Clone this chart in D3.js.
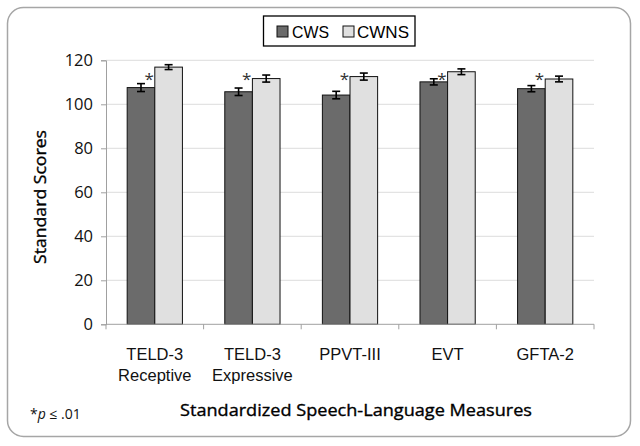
<!DOCTYPE html>
<html><head><meta charset="utf-8">
<script src="https://cdn.jsdelivr.net/npm/d3@7"></script>
<style>
body{margin:0;background:#fff;}
svg{display:block;}
</style></head>
<body><svg id="chart" width="640" height="446"></svg>
<script>
const categories = [["TELD-3","Receptive"],["TELD-3","Expressive"],["PPVT-III"],["EVT"],["GFTA-2"]];
const seriesNames = ["CWS","CWNS"];
const cwsValues  = [107.6, 105.7, 104.2, 110.2, 107.1];
const cwnsValues = [116.9, 111.7, 112.6, 114.8, 111.5];
const cwsErr  = [1.8, 1.7, 1.7, 1.4, 1.4];
const cwnsErr = [1.1, 1.6, 1.6, 1.3, 1.3];
const sigFlags = [true, true, true, true, true];
const yTicks = [0, 20, 40, 60, 80, 100, 120];
const colors = ["#6b6b6b", "#e0e0e0"];

const svg = d3.select("#chart");
const helv = "'Liberation Sans',Arial,sans-serif";
const wide = "'Open Sans','Liberation Sans',sans-serif";

// frame
svg.append("rect").attr("x",7.5).attr("y",7.5).attr("width",623).attr("height",429)
  .attr("rx",16).attr("fill","#fff").attr("stroke","#a6a6a6").attr("stroke-width",1.5);

const L = 106, R = 594, T = 60.3, B = 324.3;
const x = d3.scaleBand().domain(d3.range(categories.length)).range([L, R]).padding(0);
const y = d3.scaleLinear().domain([0, 120]).range([B, T]);
const bw = x.bandwidth() * 0.283;

// gridlines
svg.append("g").selectAll("line").data(yTicks.filter(d => d > 0)).join("line")
  .attr("x1", L).attr("x2", R).attr("y1", d => y(d)).attr("y2", d => y(d))
  .attr("stroke", "#dcdcdc").attr("stroke-width", 1);

// y axis
const yAxis = svg.append("g").attr("transform", `translate(${L},0)`)
  .call(d3.axisLeft(y).tickValues(yTicks).tickSize(5).tickPadding(8));
yAxis.select(".domain").attr("stroke", "#a0a0a0");
yAxis.selectAll(".tick line").attr("stroke", "#a0a0a0");
yAxis.selectAll("text").attr("font-family", wide).attr("font-size", 16.5).attr("fill", "#111");

// bars
const series = [cwsValues, cwnsValues];
const errs = [cwsErr, cwnsErr];
series.forEach((vals, s) => {
  const g = svg.append("g");
  g.selectAll("rect").data(vals).join("rect")
    .attr("x", (d, i) => x(i) + x.bandwidth()/2 + (s - 1) * bw)
    .attr("y", d => y(d)).attr("width", bw).attr("height", d => B - y(d))
    .attr("fill", colors[s]).attr("stroke", "#111").attr("stroke-width", 1);
  const eg = svg.append("g").attr("stroke", "#000").attr("stroke-width", 1.6);
  vals.forEach((v, i) => {
    const cx = x(i) + x.bandwidth()/2 + (s - 0.5) * bw;
    const e = errs[s][i];
    eg.append("line").attr("x1", cx).attr("x2", cx).attr("y1", y(v + e)).attr("y2", y(v - e));
    eg.append("line").attr("x1", cx - 4).attr("x2", cx + 4).attr("y1", y(v + e)).attr("y2", y(v + e));
    eg.append("line").attr("x1", cx - 4).attr("x2", cx + 4).attr("y1", y(v - e)).attr("y2", y(v - e));
  });
});

// x axis
const xAxis = svg.append("g").attr("transform", `translate(0,${B})`);
xAxis.append("line").attr("x1", L).attr("x2", R).attr("stroke", "#a0a0a0");
xAxis.selectAll("line.t").data(d3.range(categories.length + 1)).join("line").attr("class","t")
  .attr("x1", d => L + d * x.bandwidth()).attr("x2", d => L + d * x.bandwidth())
  .attr("y1", 0).attr("y2", 5).attr("stroke", "#a0a0a0");

// significance asterisks
svg.append("g").selectAll("text").data(sigFlags).join("text")
  .filter(d => d)
  .attr("x", (d, i) => x(i) + x.bandwidth()/2 - 1)
  .attr("y", y(108.6))
  .attr("text-anchor", "end").attr("font-family", wide).attr("font-size", 17)
  .attr("fill", "#333").text("*");

// category labels
categories.forEach((lines, i) => {
  const t = svg.append("text").attr("text-anchor", "middle")
    .attr("font-family", helv).attr("font-size", 16.5).attr("fill", "#111");
  lines.forEach((ln, k) => {
    t.append("tspan").attr("x", x(i) + x.bandwidth()/2).attr("y", 360 + k * 20.5).text(ln);
  });
});

// axis titles
svg.append("text").attr("x", 356).attr("y", 416).attr("text-anchor", "middle")
  .attr("font-family", wide).attr("font-size", 17).attr("fill", "#000")
  .attr("stroke", "#000").attr("stroke-width", 0.35)
  .attr("textLength", 352).attr("lengthAdjust", "spacingAndGlyphs")
  .text("Standardized Speech-Language Measures");
svg.append("text").attr("transform", "translate(46,197) rotate(-90)").attr("text-anchor", "middle")
  .attr("font-family", wide).attr("font-size", 17).attr("fill", "#000")
  .attr("stroke", "#000").attr("stroke-width", 0.35)
  .attr("textLength", 134).attr("lengthAdjust", "spacingAndGlyphs")
  .text("Standard Scores");

// footnote
const fn = svg.append("text").attr("x", 30).attr("y", 419)
  .attr("font-family", wide).attr("font-size", 14).attr("fill", "#111");
fn.append("tspan").text("*");
fn.append("tspan").attr("font-style", "italic").text("p");
fn.append("tspan").text(" \u2264 .01");

// legend
const lg = svg.append("g");
lg.append("rect").attr("x", 263.5).attr("y", 16).attr("width", 151.5).attr("height", 30)
  .attr("fill", "#fff").attr("stroke", "#000").attr("stroke-width", 1.3);
const legX = [277, 343];
const legTX = [292, 357];
seriesNames.forEach((n, s) => {
  lg.append("rect").attr("x", legX[s]).attr("y", 26).attr("width", 11).attr("height", 11)
    .attr("fill", colors[s]).attr("stroke", "#111").attr("stroke-width", 1);
  lg.append("text").attr("x", legTX[s]).attr("y", 38).attr("font-family", helv)
    .attr("font-size", 17).attr("fill", "#000")
    .attr("textLength", s === 0 ? 37 : 52).attr("lengthAdjust", "spacingAndGlyphs").text(n);
});
</script></body></html>
